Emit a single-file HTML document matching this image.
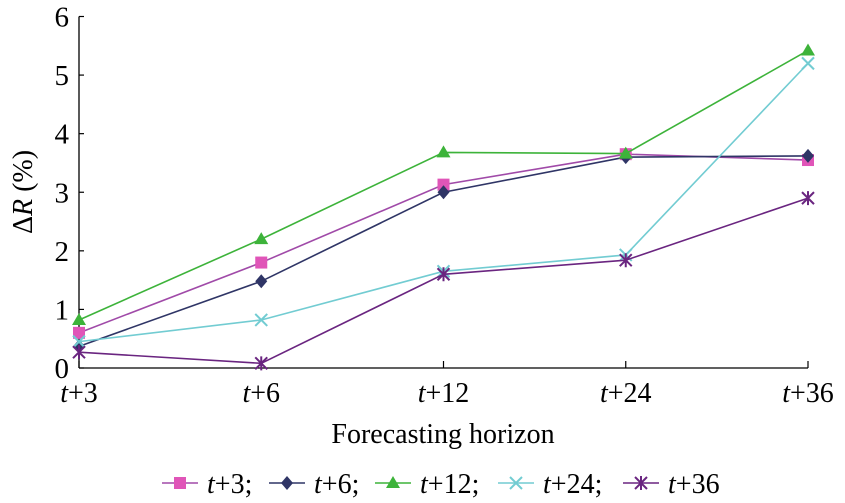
<!DOCTYPE html>
<html><head><meta charset="utf-8"><style>
html,body{margin:0;padding:0;background:#fff;}
svg{display:block;font-family:"Liberation Serif",serif;}
svg text, svg tspan{font-family:"Liberation Serif",serif;}
</style></head><body>
<svg id="chart" width="845" height="503"></svg>
<script>
const categories=["t+3","t+6","t+12","t+24","t+36"];
const yTicks=[0,1,2,3,4,5,6];
const s3=[0.6,1.8,3.13,3.65,3.55];
const s6=[0.37,1.48,3.0,3.6,3.62];
const s12=[0.82,2.2,3.68,3.66,5.42];
const s24=[0.45,0.82,1.65,1.93,5.2];
const s36=[0.27,0.08,1.6,1.84,2.9];
const seriesNames=["t+3","t+6","t+12","t+24","t+36"];
const NS="http://www.w3.org/2000/svg";
const svg=document.getElementById("chart");
const x0=79,x1=808,y0=368,y6=16.5;
function xs(i){return x0+(x1-x0)*i/(categories.length-1);}
function ys(v){return y0-(y0-y6)*v/6;}
function mk(t,a,p){const e=document.createElementNS(NS,t);for(const k in a)e.setAttribute(k,a[k]);(p||svg).appendChild(e);return e;}
function lbl(n,suffix){return '<tspan font-style="italic" font-family="Liberation Serif">t</tspan><tspan font-family="Liberation Serif">'+n.slice(1)+suffix+'</tspan>';}
let ax=mk("line",{x1:x0,y1:y6,x2:x0,y2:y0,stroke:"#000","stroke-width":1.3});


let bx=mk("line",{x1:x0,y1:y0,x2:x1,y2:y0,stroke:"#000","stroke-width":1.3});


yTicks.forEach(v=>{
  const y=ys(v);
  const tk=mk("line",{x1:x0,y1:y,x2:x0+5,y2:y,stroke:"#000","stroke-width":1.2});
  
  
  const t=mk("text",{x:x0-10,y:y+10,"text-anchor":"end","font-size":29});
  t.textContent=v;
  
  
});
categories.forEach((c,i)=>{
  const x=xs(i);
  const tk=mk("line",{x1:x,y1:y0,x2:x,y2:y0-7,stroke:"#000","stroke-width":1.2});
  
  
  const t=mk("text",{x:x,y:y0+34,"text-anchor":"middle","font-size":28});
  t.innerHTML=lbl(c,'');
  
  
});
let xt=mk("text",{x:443,y:443,"text-anchor":"middle","font-size":28});
xt.textContent="Forecasting horizon";


let yt=mk("text",{x:0,y:0,"text-anchor":"middle","font-size":28,transform:"translate(32,192) rotate(-90)"});
yt.innerHTML='Δ<tspan font-style="italic">R</tspan> (%)';


function marker(type,x,y,col,g){
  let e;
  if(type==="sq")e=mk("rect",{x:x-6,y:y-6,width:12,height:12,fill:col},g);
  else if(type==="di")e=mk("polygon",{points:`${x},${y-7} ${x+6},${y} ${x},${y+7} ${x-6},${y}`,fill:col},g);
  else if(type==="tr")e=mk("polygon",{points:`${x},${y-7} ${x+7},${y+5} ${x-7},${y+5}`,fill:col},g);
  else if(type==="x")e=mk("path",{d:`M${x-6} ${y-6}L${x+6} ${y+6}M${x-6} ${y+6}L${x+6} ${y-6}`,stroke:col,"stroke-width":2,fill:"none"},g);
  else e=mk("path",{d:`M${x-6} ${y-6}L${x+6} ${y+6}M${x-6} ${y+6}L${x+6} ${y-6}M${x} ${y-7}L${x} ${y+7}`,stroke:col,"stroke-width":2,fill:"none"},g);
  return e;
}
const all=[s3,s6,s12,s24,s36];
const cols=["#a04aa8","#2f3566","#3db33a","#72ccd2","#6a2580"];
const mcols=["#e055b8","#2f3566","#3db33a","#72ccd2","#6a2580"];
const mtypes=["sq","di","tr","x","st"];
all.forEach((data,si)=>{
  const g=mk("g",{});
  
  
  const pl=mk("polyline",{points:data.map((v,i)=>xs(i)+","+ys(v)).join(" "),fill:"none",stroke:cols[si],"stroke-width":1.6},g);
  
  
  data.forEach((v,i)=>{
    const m=marker(mtypes[si],xs(i),ys(v),mcols[si],g);
    
    
  });
});
const lx=[162,269,375,498,623];
seriesNames.forEach((n,i)=>{
  const g=mk("g",{});
  
  
  const y=483,x=lx[i];
  const l=mk("line",{x1:x,y1:y,x2:x+36,y2:y,stroke:cols[i],"stroke-width":1.6},g);
  
  
  const m=marker(mtypes[i],x+18,y,mcols[i],g);
  
  
  const t=mk("text",{x:x+45,y:y+10,"font-size":28},g);
  t.innerHTML=lbl(n,i<4?';':'');
  
  
});
</script>
</body></html>
